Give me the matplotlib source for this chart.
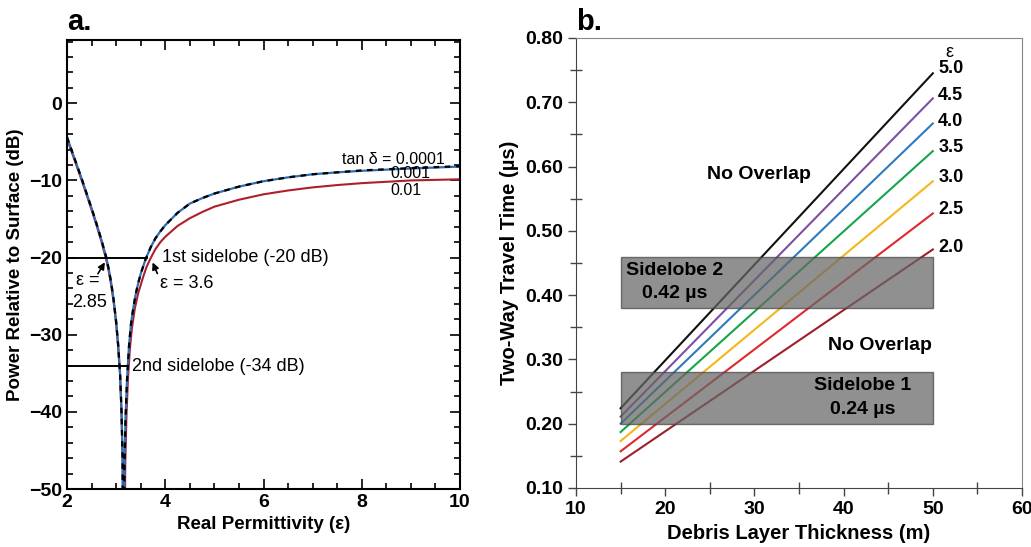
import matplotlib
matplotlib.use("Agg")
import matplotlib.pyplot as plt
from matplotlib.patches import Rectangle
from matplotlib.ticker import MultipleLocator, FormatStrFormatter

plt.rcParams['font.family'] = ['Liberation Sans', 'DejaVu Sans']

# ---- panel a: power relative to surface vs permittivity ----
eps_low = [2.0, 2.1, 2.2, 2.3, 2.4, 2.5, 2.6, 2.7, 2.8, 2.85, 2.9, 2.95, 3.0, 3.04,
           3.08, 3.11, 3.13, 3.15, 3.17, 3.19, 3.22, 3.26, 3.3, 3.35, 3.4, 3.45,
           3.5, 3.6, 3.7, 3.8, 3.9, 4.0, 4.25, 4.5, 4.75, 5.0, 5.5, 6.0, 6.5, 7.0,
           7.5, 8.0, 9.0, 10.0]
db_tan_0001 = [-4.4, -6.2, -8.0, -9.8, -11.7, -13.6, -15.6, -17.7, -20.0, -21.5,
               -23.3, -25.5, -28.3, -31.2, -35.0, -40.0, -46.0, -70.0, -47.0, -41.0,
               -36.0, -31.6, -28.7, -26.5, -24.7, -23.3, -22.1, -20.2, -18.7, -17.5,
               -16.6, -15.8, -14.2, -13.0, -12.3, -11.7, -10.8, -10.1, -9.6, -9.2,
               -8.95, -8.7, -8.4, -8.15]
db_tan_001 = [-4.4, -6.2, -8.0, -9.8, -11.7, -13.6, -15.6, -17.7, -20.0, -21.5,
              -23.3, -25.5, -28.3, -31.2, -35.0, -40.0, -46.0, -70.0, -47.0, -41.0,
              -36.0, -31.6, -28.7, -26.5, -24.7, -23.3, -22.1, -20.2, -18.7, -17.5,
              -16.6, -15.8, -14.2, -13.0, -12.3, -11.7, -10.8, -10.1, -9.6, -9.2,
              -8.95, -8.75, -8.45, -8.2]

eps_high = [2.0, 2.1, 2.2, 2.3, 2.4, 2.5, 2.6, 2.7, 2.8, 2.85, 2.9, 2.95, 3.0, 3.04,
            3.08, 3.11, 3.135, 3.16, 3.185, 3.21, 3.24, 3.28, 3.32, 3.38, 3.45,
            3.55, 3.62, 3.7, 3.8, 3.9, 4.0, 4.25, 4.5, 4.75, 5.0, 5.5, 6.0, 6.5,
            7.0, 7.5, 8.0, 9.0, 10.0]
db_tan_01 = [-4.6, -6.4, -8.2, -10.0, -11.9, -13.8, -15.8, -17.9, -20.3, -21.8,
             -23.6, -25.8, -28.6, -31.5, -35.3, -40.5, -47.0, -70.0, -47.0, -40.5,
             -35.8, -31.8, -29.2, -26.6, -24.6, -22.5, -21.2, -20.1, -18.9, -18.0,
             -17.3, -15.9, -14.9, -14.1, -13.4, -12.5, -11.8, -11.3, -10.9, -10.6,
             -10.35, -10.0, -9.85]

sidelobe_db = [-20, -34]
sidelobe_end = [3.63, 3.22]

# ---- panel b: two-way travel time vs debris thickness ----
thickness = [15, 50]
eps_labels = ['5.0', '4.5', '4.0', '3.5', '3.0', '2.5', '2.0']
twt_start = [0.224, 0.211, 0.200, 0.187, 0.173, 0.157, 0.141]
twt_end = [0.745, 0.706, 0.667, 0.624, 0.577, 0.527, 0.471]
line_colors = ['#111111', '#7d4fa3', '#2b7bbf', '#16a64a', '#f3b71c', '#e0282d', '#9e1f28']
label_y = [0.752, 0.711, 0.670, 0.629, 0.583, 0.533, 0.474]

fig = plt.figure(figsize=(10.31, 5.47), dpi=100)
ax1 = fig.add_axes([0.0650, 0.1060, 0.3812, 0.8208])
ax2 = fig.add_axes([0.5587, 0.1079, 0.4326, 0.8227])

# panel a
ax1.plot(eps_high, db_tan_01, color='#ad1f2b', lw=1.5)
ax1.plot(eps_low, db_tan_001, color='#2f6db5', lw=1.6)
ax1.plot(eps_low, db_tan_0001, color='black', lw=1.6, linestyle=(0, (2.5, 2.5)))
for d, e in zip(sidelobe_db, sidelobe_end):
    ax1.plot([2, e], [d, d], color='black', lw=1.4)

ax1.set_xlim(2, 10)
ax1.set_ylim(-50, 8.2)
ax1.xaxis.set_major_locator(MultipleLocator(2))
ax1.xaxis.set_minor_locator(MultipleLocator(0.5))
ax1.yaxis.set_major_locator(MultipleLocator(10))
ax1.yaxis.set_minor_locator(MultipleLocator(2))
ax1.tick_params(which='both', direction='in', top=True, right=True, width=1.2)
ax1.tick_params(which='major', length=7, labelsize=14)
ax1.tick_params(which='minor', length=4)
for lab in ax1.get_xticklabels() + ax1.get_yticklabels():
    lab.set_fontweight('bold')
for s in ax1.spines.values():
    s.set_linewidth(1.5)
ax1.set_xlabel('Real Permittivity (ε)', fontsize=13.5, fontweight='bold')
ax1.set_ylabel('Power Relative to Surface (dB)', fontsize=13.5, fontweight='bold')
ax1.text(0, 1.01, 'a.', transform=ax1.transAxes, fontsize=21, fontweight='bold',
         ha='left', va='bottom')

ax1.text(7.59, -7.25, 'tan δ = 0.0001', fontsize=11.5, va='center')
ax1.text(8.58, -9.1, '0.001', fontsize=11.5, va='center')
ax1.text(8.58, -11.3, '0.01', fontsize=11.5, va='center')
ax1.text(3.93, -20, '1st sidelobe (-20 dB)', fontsize=13, va='center')
ax1.text(3.90, -23.3, 'ε = 3.6', fontsize=13, va='center')
ax1.text(2.19, -23.0, 'ε =', fontsize=13, va='center')
ax1.text(2.10, -25.8, '2.85', fontsize=13, va='center')
ax1.text(3.32, -34.1, '2nd sidelobe (-34 dB)', fontsize=13, va='center')
ax1.annotate('', xy=(2.80, -20.3), xytext=(2.60, -22.4),
             arrowprops=dict(arrowstyle='-|>', color='black', lw=1.2, mutation_scale=10))
ax1.annotate('', xy=(3.72, -20.3), xytext=(3.86, -22.4),
             arrowprops=dict(arrowstyle='-|>', color='black', lw=1.2, mutation_scale=10))

# panel b
for y0, y1, c in zip(twt_start, twt_end, line_colors):
    ax2.plot(thickness, [y0, y1], color=c, lw=1.5)
for lo, hi in [(0.38, 0.46), (0.20, 0.28)]:
    ax2.add_patch(Rectangle((15, lo), 35, hi - lo, facecolor='#666666', alpha=0.72,
                            edgecolor='#444444', lw=1, zorder=3))
for lab, y in zip(eps_labels, label_y):
    ax2.text(50.6, y, lab, fontsize=13, fontweight='bold', va='center')
ax2.text(51.9, 0.778, 'ε', fontsize=13, ha='center', va='center')

ax2.text(15.6, 0.439, 'Sidelobe 2', fontsize=14, fontweight='bold', va='center', zorder=4)
ax2.text(17.45, 0.402, '0.42 µs', fontsize=14, fontweight='bold', va='center', zorder=4)
ax2.text(42.1, 0.259, 'Sidelobe 1', fontsize=14, fontweight='bold', ha='center',
         va='center', zorder=4)
ax2.text(42.1, 0.222, '0.24 µs', fontsize=14, fontweight='bold', ha='center',
         va='center', zorder=4)
ax2.text(30.5, 0.587, 'No Overlap', fontsize=14, fontweight='bold', ha='center', va='center')
ax2.text(44.1, 0.321, 'No Overlap', fontsize=14, fontweight='bold', ha='center', va='center')

ax2.set_xlim(10, 60)
ax2.set_ylim(0.10, 0.80)
ax2.xaxis.set_major_locator(MultipleLocator(10))
ax2.xaxis.set_minor_locator(MultipleLocator(5))
ax2.yaxis.set_major_locator(MultipleLocator(0.1))
ax2.yaxis.set_minor_locator(MultipleLocator(0.05))
ax2.yaxis.set_major_formatter(FormatStrFormatter('%.2f'))
ax2.tick_params(which='major', direction='out', length=6, width=1, labelsize=14,
                color='#444444')
ax2.tick_params(which='minor', direction='inout', length=8, width=1, color='#444444')
for lab in ax2.get_xticklabels() + ax2.get_yticklabels():
    lab.set_fontweight('bold')
for side in ['left', 'bottom']:
    ax2.spines[side].set_color('#444444')
for side in ['top', 'right']:
    ax2.spines[side].set_color('#888888')
ax2.set_xlabel('Debris Layer Thickness (m)', fontsize=14.5, fontweight='bold')
ax2.set_ylabel('Two-Way Travel Time (µs)', fontsize=14.5, fontweight='bold')
ax2.text(0, 1.005, 'b.', transform=ax2.transAxes, fontsize=21, fontweight='bold',
         ha='left', va='bottom')

fig.savefig('out.png', dpi=100)
